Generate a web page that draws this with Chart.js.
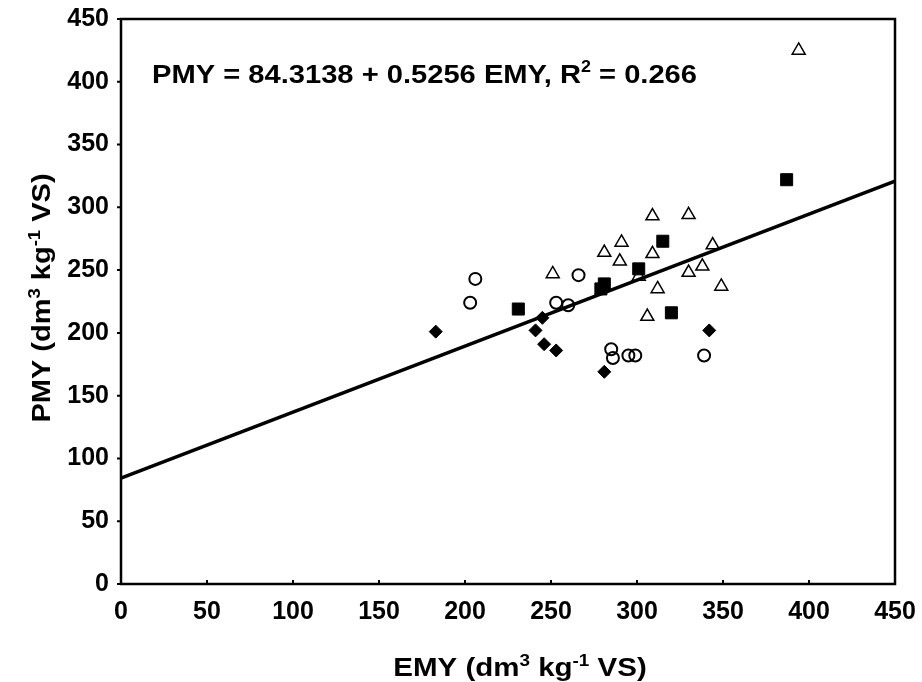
<!DOCTYPE html>
<html>
<head>
<meta charset="utf-8">
<script src="https://cdn.jsdelivr.net/npm/chart.js@4/dist/chart.umd.min.js"></script>
<style>
  html, body { margin: 0; padding: 0; background: #fff; }
  #wrap { width: 922px; height: 682px; }
</style>
</head>
<body>
<div id="wrap"><canvas id="c" width="922" height="682"></canvas></div>
<script>
// ---- data ----
const diamondX = [183, 241, 245, 246, 253, 281, 342];
const diamondY = [201, 202, 212, 191, 186, 169, 202];
const squareX = [231, 279, 281, 301, 315, 320, 387];
const squareY = [219, 235, 239, 251, 273, 216, 322];
const circleX = [203, 206, 253, 260, 266, 285, 286, 295, 299, 339];
const circleY = [224, 243, 224, 222, 246, 187, 180, 182, 182, 182];
const triX = [251, 281, 290, 291, 301, 306, 309, 309, 312, 330, 330, 338, 344, 349, 394];
const triY = [247, 264, 257, 272, 245, 213, 293, 263, 235, 294, 248, 253, 270, 237, 425];
const fitX = [0, 450];
const fitY = [84.3138, 320.8338];
const xTicks = [0, 50, 100, 150, 200, 250, 300, 350, 400, 450];
const yTicks = [0, 50, 100, 150, 200, 250, 300, 350, 400, 450];
const equationText = ['PMY = 84.3138 + 0.5256 EMY, R', '2', ' = 0.266'];
const xTitle = ['EMY (dm', '3', ' kg', '-1', ' VS)'];
const yTitle = ['PMY (dm', '3', ' kg', '-1', ' VS)'];

const FONT = '"Liberation Sans", Arial, sans-serif';
const pts = (xs, ys) => xs.map((x, i) => ({ x: x, y: ys[i] }));

function drawRich(ctx, parts, size, x, y, align, stretch) {
  const supSize = Math.round(size * 0.62);
  const widths = parts.map((p, i) => {
    ctx.font = 'bold ' + (i % 2 ? supSize : size) + 'px ' + FONT;
    return ctx.measureText(p).width;
  });
  const total = widths.reduce((a, b) => a + b, 0);
  ctx.save();
  ctx.translate(x, y);
  ctx.scale(stretch, 1);
  let cx = align === 'center' ? -total / 2 : 0;
  ctx.textBaseline = 'alphabetic';
  ctx.textAlign = 'left';
  parts.forEach((p, i) => {
    ctx.font = 'bold ' + (i % 2 ? supSize : size) + 'px ' + FONT;
    ctx.fillText(p, cx, i % 2 ? -size * 0.42 : 0);
    cx += widths[i];
  });
  ctx.restore();
}

const decor = {
  id: 'decor',
  afterDraw(chart) {
    const ctx = chart.ctx;
    const a = chart.chartArea;
    const xs = chart.scales.x, ys = chart.scales.y;
    ctx.save();
    ctx.strokeStyle = '#000';
    ctx.fillStyle = '#000';
    ctx.lineWidth = 2.5;
    ctx.strokeRect(a.left, a.top, a.right - a.left, a.bottom - a.top);
    ctx.lineWidth = 2;
    ctx.beginPath();
    xTicks.forEach(v => {
      const px = xs.getPixelForValue(v);
      ctx.moveTo(px, a.bottom);
      ctx.lineTo(px, a.bottom - 4);
    });
    yTicks.forEach(v => {
      const py = ys.getPixelForValue(v);
      ctx.moveTo(a.left, py);
      ctx.lineTo(a.left - 4, py);
    });
    ctx.stroke();
    drawRich(ctx, equationText, 26, 152, 83, 'left', 1.12);
    drawRich(ctx, xTitle, 25, 520, 676, 'center', 1.18);
    ctx.translate(50, 298);
    ctx.rotate(-Math.PI / 2);
    drawRich(ctx, yTitle, 25, 0, 0, 'center', 1.16);
    ctx.restore();
  }
};

new Chart(document.getElementById('c'), {
  type: 'scatter',
  data: {
    datasets: [
      { label: 'fit', type: 'line', data: pts(fitX, fitY), borderColor: '#000', borderWidth: 3.5,
        pointRadius: 0, fill: false, order: 0 },
      { label: 'diamonds', data: pts(diamondX, diamondY), pointStyle: 'rectRot', pointRadius: 6.5,
        backgroundColor: '#000', borderColor: '#000', borderWidth: 1, order: 1 },
      { label: 'squares', data: pts(squareX, squareY), pointStyle: 'rect', pointRadius: 8.5,
        backgroundColor: '#000', borderColor: '#000', borderWidth: 1, order: 2 },
      { label: 'circles', data: pts(circleX, circleY), pointStyle: 'circle', pointRadius: 6,
        backgroundColor: 'rgba(0,0,0,0)', borderColor: '#000', borderWidth: 2, order: 3 },
      { label: 'triangles', data: pts(triX, triY), pointStyle: 'triangle', pointRadius: 7.5,
        backgroundColor: 'rgba(0,0,0,0)', borderColor: '#000', borderWidth: 1.5, order: 4 }
    ]
  },
  options: {
    responsive: false,
    animation: false,
    events: [],
    layout: { padding: { left: 0, top: 19, right: 27, bottom: 0 } },
    plugins: { legend: { display: false }, tooltip: { enabled: false } },
    scales: {
      x: {
        type: 'linear', min: 0, max: 450,
        afterBuildTicks: s => { s.ticks = xTicks.map(v => ({ value: v })); },
        ticks: { color: '#000', font: { family: FONT, size: 25, weight: 'bold' }, padding: 13, maxRotation: 0, autoSkip: false },
        grid: { display: false, drawTicks: false },
        border: { display: false },
        afterFit: s => { s.height = 98; s.paddingLeft = 0; s.paddingRight = 0; }
      },
      y: {
        type: 'linear', min: 0, max: 450,
        afterBuildTicks: s => { s.ticks = yTicks.map(v => ({ value: v })); },
        ticks: { color: '#000', font: { family: FONT, size: 25, weight: 'bold' }, padding: 12, autoSkip: false },
        grid: { display: false, drawTicks: false },
        border: { display: false },
        afterFit: s => { s.width = 121; s.paddingTop = 0; s.paddingBottom = 0; }
      }
    }
  },
  plugins: [decor]
});
</script>
</body>
</html>
